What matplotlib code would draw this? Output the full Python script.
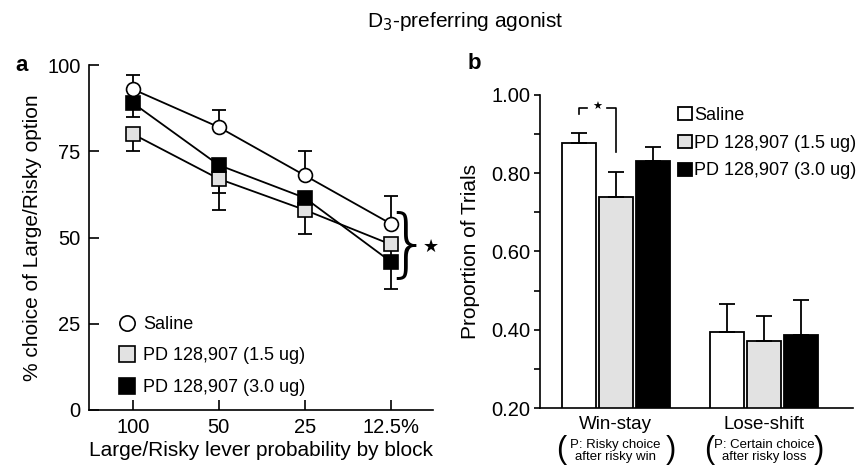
import numpy as np
import matplotlib.pyplot as plt
from matplotlib.lines import Line2D
from matplotlib.patches import Patch

plt.rcParams['font.family'] = ['Liberation Sans', 'DejaVu Sans']

# panel a: choice of large/risky option by block
blocks = ['100', '50', '25', '12.5%']
saline = [93, 82, 68, 54]
saline_err = [4, 5, 7, 8]        # drawn upward
low_dose = [80, 67, 58, 48]
low_dose_err = [5, 9, 7, 4]      # drawn downward
high_dose = [89, 71, 61.5, 43]
high_dose_err = [4, 8, 4, 8]     # drawn downward

# panel b: win-stay / lose-shift
conditions = ['Win-stay', 'Lose-shift']
sub_labels = ['P: Risky choice\nafter risky win', 'P: Certain choice\nafter risky loss']
saline_b = [0.877, 0.393]
saline_b_err = [0.025, 0.072]
low_b = [0.738, 0.370]
low_b_err = [0.064, 0.066]
high_b = [0.832, 0.387]
high_b_err = [0.036, 0.089]

labels = ['Saline', 'PD 128,907 (1.5 ug)', 'PD 128,907 (3.0 ug)']
gray = '#e2e2e2'
FS = 13
TFS = 14.5   # tick labels
LFS = 15     # axis labels

fig = plt.figure(figsize=(8.62, 4.68), dpi=100)
fig.text(0.54, 0.955, r'D$_3$-preferring agonist', ha='center', va='center', fontsize=15)

# ---------------- panel a ----------------
ax = fig.add_axes([0.1032, 0.124, 0.399, 0.737])
x = np.arange(len(blocks))
lw = 1.3

ax.errorbar(x, saline, yerr=[np.zeros(4), saline_err], fmt='none', ecolor='black',
            elinewidth=lw, capsize=5, capthick=lw, zorder=1)
ax.errorbar(x, low_dose, yerr=[low_dose_err, np.zeros(4)], fmt='none', ecolor='black',
            elinewidth=lw, capsize=5, capthick=lw, zorder=1)
ax.errorbar(x, high_dose, yerr=[high_dose_err, np.zeros(4)], fmt='none', ecolor='black',
            elinewidth=lw, capsize=5, capthick=lw, zorder=1)

ax.plot(x, low_dose, color='black', lw=lw, marker='s', ms=10, mfc=gray, mec='black',
        mew=1.2, zorder=3, clip_on=False)
ax.plot(x, high_dose, color='black', lw=lw, marker='s', ms=10, mfc='black', mec='black',
        mew=1.2, zorder=4, clip_on=False)
ax.plot(x, saline, color='black', lw=lw, marker='o', ms=10, mfc='white', mec='black',
        mew=1.2, zorder=5, clip_on=False)

ax.set_xlim(-0.51, 3.49)
ax.set_ylim(0, 100)
ax.set_yticks([0, 25, 50, 75, 100])
ax.set_xticks(x)
ax.set_xticklabels(blocks)
ax.tick_params(direction='in', length=7, width=1.2, labelsize=TFS, pad=6)
for s in ['top', 'right']:
    ax.spines[s].set_visible(False)
for s in ['left', 'bottom']:
    ax.spines[s].set_linewidth(1.2)
ax.set_ylabel('% choice of Large/Risky option', fontsize=LFS, labelpad=4)
ax.set_xlabel('Large/Risky lever probability by block', fontsize=LFS, labelpad=3)

# brace + star at last block
ax.text(3.19, 47.3, '}', fontsize=54, ha='center', va='center', clip_on=False,
        family='DejaVu Sans', fontweight='light')
ax.text(3.47, 47.3, '\u2605', fontsize=13, ha='center', va='center', clip_on=False,
        family='DejaVu Sans')

handles_a = [
    Line2D([], [], ls='none', marker='o', ms=11, mfc='white', mec='black', mew=1.2),
    Line2D([], [], ls='none', marker='s', ms=11, mfc=gray, mec='black', mew=1.2),
    Line2D([], [], ls='none', marker='s', ms=11, mfc='black', mec='black', mew=1.2),
]
ax.legend(handles_a, labels, loc='lower left', bbox_to_anchor=(0.063, 0.02), frameon=False,
          fontsize=FS, handlelength=1.0, handletextpad=0.4, labelspacing=0.8,
          borderaxespad=0)

ax.text(-0.215, 1.0, 'a', transform=ax.transAxes, fontsize=16, fontweight='bold',
        ha='left', va='center')

# ---------------- panel b ----------------
bx = fig.add_axes([0.6265, 0.1282, 0.363, 0.669])
g = np.arange(len(conditions))
w = 0.23
off = 0.25
ek = dict(ecolor='black', elinewidth=lw, capsize=6, capthick=lw)
bx.bar(g - off, saline_b, w, bottom=0, color='white', edgecolor='black', lw=1.3,
       yerr=[np.zeros(2), saline_b_err], error_kw=ek, label=labels[0])
bx.bar(g, low_b, w, color=gray, edgecolor='black', lw=1.3,
       yerr=[np.zeros(2), low_b_err], error_kw=ek, label=labels[1])
bx.bar(g + off, high_b, w, color='black', edgecolor='black', lw=1.3,
       yerr=[np.zeros(2), high_b_err], error_kw=ek, label=labels[2])

bx.set_xlim(-0.51, 1.6)
bx.set_ylim(0.2, 1.0)
bx.set_yticks([0.2, 0.4, 0.6, 0.8, 1.0])
bx.set_yticks([0.3, 0.5, 0.7, 0.9], minor=True)
bx.set_yticklabels(['%.2f' % v for v in [0.2, 0.4, 0.6, 0.8, 1.0]])
bx.set_xticks([])
bx.tick_params(axis='y', which='both', direction='out', length=4, width=1.2,
               labelsize=TFS, pad=3)
for s in ['top', 'right']:
    bx.spines[s].set_visible(False)
for s in ['left', 'bottom']:
    bx.spines[s].set_linewidth(1.2)
bx.set_ylabel('Proportion of Trials', fontsize=LFS, labelpad=8)

for gi, (name, sub) in enumerate(zip(conditions, sub_labels)):
    bx.annotate(name, xy=(gi, 0), xycoords=('data', 'axes fraction'),
                xytext=(0, -12), textcoords='offset points', ha='center', va='center',
                fontsize=13.5)
    bx.annotate(sub, xy=(gi, 0), xycoords=('data', 'axes fraction'),
                xytext=(0, -31), textcoords='offset points', ha='center', va='center',
                fontsize=9.5, linespacing=0.95)
    for sx, ch in [(-0.37, '('), (0.37, ')')]:
        bx.annotate(ch, xy=(gi + sx, 0), xycoords=('data', 'axes fraction'),
                    xytext=(0, -30), textcoords='offset points', ha='center',
                    va='center', fontsize=22, fontweight='light')

# significance bracket between saline and 1.5 ug on win-stay
x0, x1 = -off, 0.0
ytop = 0.967
bx.plot([x0, x0, x0 + 0.06], [0.95, ytop, ytop], color='black', lw=1.2, clip_on=False)
bx.plot([x1 - 0.06, x1, x1], [ytop, ytop, 0.855], color='black', lw=1.2, clip_on=False)
bx.text((x0 + x1) / 2, ytop + 0.003, '\u2605', fontsize=8, ha='center', va='center',
        family='DejaVu Sans')

handles_b = [Patch(facecolor=c, edgecolor='black', lw=1.3) for c in ['white', gray, 'black']]
bx.legend(handles_b, labels, loc='upper left', bbox_to_anchor=(0.418, 0.985), frameon=False,
          fontsize=13, handlelength=0.75, handleheight=0.75, handletextpad=0.15,
          labelspacing=0.6, borderaxespad=0)

bx.text(-0.233, 1.10, 'b', transform=bx.transAxes, fontsize=16, fontweight='bold',
        ha='left', va='center')

fig.savefig('out.png', dpi=100)
